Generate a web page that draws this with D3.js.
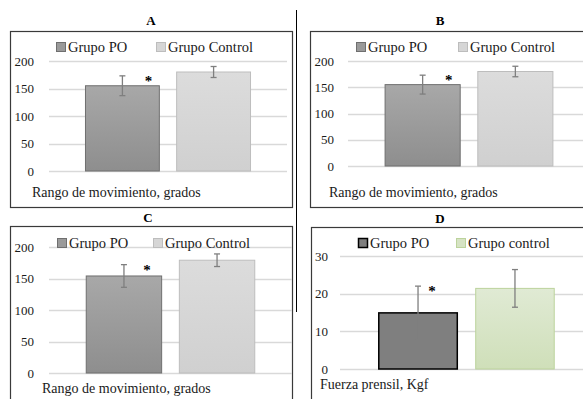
<!DOCTYPE html>
<html>
<head>
<meta charset="utf-8">
<script src="https://cdn.jsdelivr.net/npm/d3@7"></script>
<style>
  body { margin: 0; background: #fff; }
</style>
</head>
<body>
<script>
// data
var groups = ["Grupo PO", "Grupo Control"];
var groupsD = ["Grupo PO", "Grupo control"];
var romMeans = { A: [155, 180], B: [155, 180], C: [154, 179] };
var romSD = { A: [18, 10], B: [18, 10], C: [18, 10] };
var romTicks = [0, 50, 100, 150, 200];
var gripMeans = [14.9, 21.4];
var gripSD = [7.1, 5.0];
var gripTicks = [0, 10, 20, 30];
var panelNames = ["A", "B", "C", "D"];

var W = 583, H = 399;
var FONT = "'Liberation Serif', 'Times New Roman', 'DejaVu Serif', serif";
var svg = d3.select("body").append("svg").attr("width", W).attr("height", H)
  .style("display", "block").attr("font-family", FONT);

var defs = svg.append("defs");
function grad(id, c1, c2) {
  var g = defs.append("linearGradient").attr("id", id)
    .attr("x1", 0).attr("y1", 0).attr("x2", 0).attr("y2", 1);
  g.append("stop").attr("offset", "0%").attr("stop-color", c1);
  g.append("stop").attr("offset", "100%").attr("stop-color", c2);
}
grad("gPO", "#a8a8a8", "#8e8e8e");
grad("gCtl", "#dcdcdc", "#d0d0d0");
grad("gGreen", "#e0ead4", "#cfdfb9");

// layout for each panel (positions only)
var layout = {
  A: { box: [10, 31, 292, 207], title: [151, 20], x: [49, 287], y: [171, 61], lab: 34,
       leg: [56, 156], legY: 47, axis: [32, 192], star: 26 },
  B: { box: [310, 31, 600, 207], title: [440, 20], x: [348, 590], y: [166, 61], lab: 334,
       leg: [356, 458], legY: 47, axis: [329, 192], star: 26 },
  C: { box: [10, 226, 292, 420], title: [148, 217], x: [49, 292], y: [373, 247], lab: 34,
       leg: [57, 153], legY: 243, axis: [42, 388], star: 23 },
  D: { box: [311, 227, 600, 420], title: [440, 218], x: [340, 593], y: [369, 256], lab: 328,
       leg: [358, 456], legY: 243, axis: [320, 384], star: 14 }
};

var styles = {
  rom: [{ fill: "url(#gPO)", stroke: "#6f6f6f", sw: 1, leg: "#9a9a9a" },
        { fill: "url(#gCtl)", stroke: "#bdbdbd", sw: 1, leg: "#d6d6d6" }],
  grip: [{ fill: "#7f7f7f", stroke: "#000", sw: 1.5, leg: "#7f7f7f" },
         { fill: "url(#gGreen)", stroke: "#bcd39c", sw: 1, leg: "#d6e3c4" }]
};

function drawPanel(name) {
  var L = layout[name];
  var isD = name == "D";
  var means = isD ? gripMeans : romMeans[name];
  var sd = isD ? gripSD : romSD[name];
  var ticks = isD ? gripTicks : romTicks;
  var labels = isD ? groupsD : groups;
  var st = isD ? styles.grip : styles.rom;
  var g = svg.append("g");

  var x = d3.scaleBand().domain(labels).range(L.x).paddingInner(0.19).paddingOuter(0.4);
  var y = d3.scaleLinear().domain([0, d3.max(ticks)]).range(L.y);

  g.append("text").attr("x", L.title[0]).attr("y", L.title[1]).attr("dy", "0.35em")
    .attr("text-anchor", "middle").attr("font-weight", "bold").attr("font-size", 13)
    .text(name);

  g.append("rect").attr("x", L.box[0] + 0.5).attr("y", L.box[1] + 0.5)
    .attr("width", L.box[2] - L.box[0]).attr("height", L.box[3] - L.box[1])
    .attr("fill", "none").attr("stroke", "#3a3a3a").attr("stroke-width", 1.2);

  // gridlines
  g.selectAll(".grid").data(ticks).enter().append("line")
    .attr("x1", L.x[0]).attr("x2", L.x[1])
    .attr("y1", function(d){ return Math.round(y(d)) + 0.5; })
    .attr("y2", function(d){ return Math.round(y(d)) + 0.5; })
    .attr("stroke", "#d9d9d9").attr("stroke-width", 1.5);

  g.selectAll(".tick").data(ticks).enter().append("text")
    .attr("x", L.lab).attr("y", function(d){ return y(d); }).attr("dy", "0.35em")
    .attr("text-anchor", "end").attr("font-size", 13).attr("fill", "#1a1a1a")
    .text(function(d){ return d; });

  // bars
  g.selectAll(".bar").data(means).enter().append("rect")
    .attr("x", function(d, i){ return x(labels[i]); })
    .attr("y", function(d){ return y(d); })
    .attr("width", x.bandwidth())
    .attr("height", function(d){ return y(0) - y(d); })
    .attr("fill", function(d, i){ return st[i].fill; })
    .attr("stroke", function(d, i){ return st[i].stroke; })
    .attr("stroke-width", function(d, i){ return st[i].sw; });

  // error bars
  means.forEach(function(m, i) {
    var cx = x(labels[i]) + x.bandwidth() / 2;
    var e = g.append("g").attr("stroke", "#7f7f7f").attr("stroke-width", 1.3);
    e.append("line").attr("x1", cx).attr("x2", cx).attr("y1", y(m - sd[i])).attr("y2", y(m + sd[i]));
    [m - sd[i], m + sd[i]].forEach(function(v) {
      e.append("line").attr("x1", cx - 3).attr("x2", cx + 3).attr("y1", y(v)).attr("y2", y(v));
    });
  });

  // significance mark on the PO bar
  var cx0 = x(labels[0]) + x.bandwidth() / 2;
  g.append("text").attr("x", cx0 + L.star).attr("y", y(means[0] + sd[0]) + 10)
    .attr("text-anchor", "middle").attr("font-size", 15).attr("font-weight", "bold")
    .text("*");

  // legend
  labels.forEach(function(lbl, i) {
    g.append("rect").attr("x", L.leg[i] + 0.5).attr("y", L.legY - 4.5).attr("width", 9).attr("height", 9)
      .attr("fill", st[i].leg).attr("stroke", isD && i == 0 ? "#000" : st[i].stroke)
      .attr("stroke-width", isD && i == 0 ? 1.5 : 1);
    g.append("text").attr("x", L.leg[i] + 12).attr("y", L.legY).attr("dy", "0.35em")
      .attr("font-size", 14.5).attr("fill", "#1a1a1a").text(lbl);
  });

  g.append("text").attr("x", L.axis[0]).attr("y", L.axis[1]).attr("dy", "0.35em")
    .attr("font-size", 14).attr("fill", "#1a1a1a")
    .text(isD ? "Fuerza prensil, Kgf" : "Rango de movimiento, grados");
}

panelNames.forEach(drawPanel);

// vertical divider between the columns
svg.append("line").attr("x1", 296.5).attr("x2", 296.5).attr("y1", 10).attr("y2", 312)
  .attr("stroke", "#000").attr("stroke-width", 1);
</script>
</body>
</html>
